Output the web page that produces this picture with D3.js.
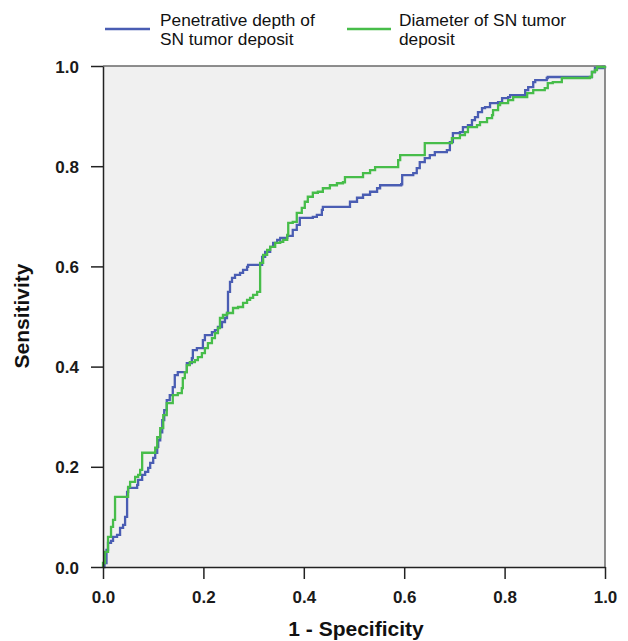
<!DOCTYPE html>
<html><head><meta charset="utf-8">
<script src="https://cdn.jsdelivr.net/npm/d3@7"></script>
<style>body{margin:0;background:#fff}svg{display:block}</style>
</head><body>
<svg id="c" width="628" height="641"></svg>
<script>
const seriesNames = ["Penetrative depth of|SN tumor deposit", "Diameter of SN tumor|deposit"];
const xTicks = [0, 0.2, 0.4, 0.6, 0.8, 1.0];
const yTicks = [0, 0.2, 0.4, 0.6, 0.8, 1.0];
const depthFPR = [0,0.003,0.007,0.010,0.016,0.020,0.028,0.034,0.040,0.044,0.048,0.048,0.050,0.064,0.068,0.070,0.078,0.084,0.090,0.094,0.100,0.104,0.108,0.110,0.114,0.118,0.122,0.127,0.133,0.139,0.143,0.149,0.159,0.167,0.177,0.179,0.187,0.199,0.203,0.213,0.217,0.223,0.229,0.237,0.243,0.247,0.249,0.249,0.253,0.257,0.263,0.273,0.279,0.287,0.289,0.309,0.317,0.323,0.333,0.339,0.347,0.353,0.367,0.378,0.386,0.392,0.418,0.426,0.436,0.438,0.488,0.492,0.506,0.518,0.532,0.546,0.552,0.594,0.596,0.618,0.625,0.631,0.641,0.651,0.661,0.685,0.691,0.697,0.711,0.717,0.727,0.735,0.741,0.747,0.755,0.761,0.771,0.787,0.795,0.807,0.811,0.831,0.841,0.847,0.857,0.861,0.884,0.886,0.970,0.974,0.980,0.996,1];
const depthTPR = [0,0.008,0.034,0.048,0.052,0.060,0.064,0.078,0.084,0.100,0.120,0.150,0.158,0.158,0.164,0.174,0.184,0.190,0.198,0.208,0.218,0.228,0.240,0.253,0.269,0.293,0.313,0.333,0.343,0.359,0.383,0.389,0.389,0.407,0.417,0.433,0.437,0.453,0.463,0.463,0.469,0.473,0.479,0.489,0.497,0.507,0.527,0.549,0.569,0.577,0.583,0.587,0.593,0.599,0.603,0.603,0.619,0.629,0.639,0.647,0.653,0.657,0.661,0.673,0.683,0.697,0.699,0.703,0.713,0.719,0.719,0.729,0.737,0.743,0.749,0.756,0.762,0.764,0.782,0.786,0.796,0.808,0.816,0.822,0.828,0.832,0.848,0.866,0.868,0.878,0.882,0.892,0.898,0.908,0.916,0.918,0.926,0.928,0.936,0.938,0.942,0.942,0.952,0.958,0.968,0.972,0.976,0.978,0.978,0.988,0.996,0.998,1];
const diamFPR = [0,0,0.004,0.010,0.016,0.020,0.024,0.024,0.048,0.050,0.054,0.064,0.070,0.074,0.078,0.100,0.104,0.108,0.114,0.120,0.127,0.139,0.149,0.157,0.159,0.163,0.167,0.173,0.183,0.189,0.197,0.203,0.209,0.217,0.223,0.229,0.233,0.239,0.247,0.259,0.269,0.279,0.287,0.293,0.299,0.307,0.313,0.313,0.319,0.327,0.333,0.343,0.353,0.359,0.367,0.369,0.378,0.386,0.396,0.402,0.408,0.418,0.428,0.438,0.452,0.466,0.478,0.482,0.502,0.518,0.532,0.542,0.578,0.588,0.592,0.641,0.641,0.691,0.695,0.711,0.721,0.727,0.745,0.751,0.765,0.775,0.777,0.787,0.791,0.805,0.807,0.817,0.837,0.845,0.857,0.880,0.886,0.896,0.914,0.970,0.974,0.980,0.984,1];
const diamTPR = [0,0.008,0.030,0.060,0.080,0.094,0.114,0.140,0.140,0.160,0.170,0.180,0.184,0.194,0.228,0.228,0.238,0.259,0.277,0.303,0.327,0.343,0.347,0.357,0.377,0.389,0.403,0.409,0.413,0.419,0.427,0.437,0.447,0.457,0.467,0.477,0.497,0.503,0.507,0.517,0.519,0.527,0.533,0.537,0.543,0.549,0.557,0.607,0.623,0.633,0.639,0.647,0.649,0.653,0.663,0.687,0.689,0.707,0.717,0.729,0.739,0.747,0.749,0.756,0.762,0.766,0.768,0.778,0.778,0.786,0.792,0.798,0.798,0.812,0.822,0.822,0.846,0.846,0.856,0.862,0.868,0.878,0.882,0.888,0.896,0.902,0.912,0.922,0.926,0.926,0.932,0.938,0.938,0.946,0.952,0.956,0.966,0.968,0.976,0.978,0.988,0.992,0.998,1];
const colors = ["#4a5db3", "#47bd4a"];

const svg = d3.select("#c");
const L = 103, R = 605, T = 66, B = 567;
const x = d3.scaleLinear().domain([0,1]).range([L,R]);
const y = d3.scaleLinear().domain([0,1]).range([B,T]);
const font = "'Liberation Sans', Arial, sans-serif";

svg.append("rect").attr("x",L).attr("y",T).attr("width",R-L).attr("height",B-T).attr("fill","#f0f0f0");
svg.append("path").attr("d",`M${L},${T}H${R}V${B}`).attr("fill","none").attr("stroke","#6a6a6a").attr("stroke-width",1.5);

const series = [
  d3.zip(depthFPR, depthTPR),
  d3.zip(diamFPR, diamTPR)
];
const line = d3.line().x(d=>x(d[0])).y(d=>y(d[1])).curve(d3.curveStepAfter);
series.forEach((s,i)=>{
  svg.append("path").datum(s).attr("d",line).attr("fill","none")
    .attr("stroke",colors[i]).attr("stroke-width",2.3).attr("stroke-linejoin","miter");
});

const xAxis = svg.append("g").attr("transform",`translate(0,${B})`)
  .call(d3.axisBottom(x).tickValues(xTicks).tickFormat(d3.format(".1f")).tickSize(12).tickSizeOuter(0));
const yAxis = svg.append("g").attr("transform",`translate(${L},0)`)
  .call(d3.axisLeft(y).tickValues(yTicks).tickFormat(d3.format(".1f")).tickSize(12).tickSizeOuter(0));
[xAxis,yAxis].forEach(g=>{
  g.select(".domain").attr("stroke","#222").attr("stroke-width",1.5);
  g.selectAll(".tick line").attr("stroke","#222").attr("stroke-width",1.5);
  g.selectAll(".tick text").attr("fill","#1a1a1a").style("font-family",font)
    .style("font-size","17px").style("font-weight","bold");
});
xAxis.selectAll(".tick text").attr("dy",null).attr("y",36);
yAxis.selectAll(".tick text").attr("x",-24).attr("dy","0.36em");

svg.append("text").attr("x",356).attr("y",636).attr("text-anchor","middle")
  .style("font-family",font).style("font-size","21px").style("font-weight","bold").attr("fill","#111")
  .text("1 - Specificity");
svg.append("text").attr("transform","translate(29,316) rotate(-90)").attr("text-anchor","middle")
  .style("font-family",font).style("font-size","21px").style("font-weight","bold").attr("fill","#111")
  .text("Sensitivity");

const legX = [[105,150,160],[347,391,399]];
seriesNames.forEach((n,i)=>{
  const [x1,x2,tx] = legX[i];
  svg.append("line").attr("x1",x1).attr("x2",x2).attr("y1",29).attr("y2",29)
    .attr("stroke",colors[i]).attr("stroke-width",2.3);
  const t = svg.append("text").attr("x",tx).attr("y",26)
    .style("font-family",font).style("font-size","17.3px").attr("fill","#111");
  n.split("|").forEach((s,j)=>{
    t.append("tspan").attr("x",tx).attr("dy", j===0?0:19).text(s);
  });
});
</script>
</body></html>
